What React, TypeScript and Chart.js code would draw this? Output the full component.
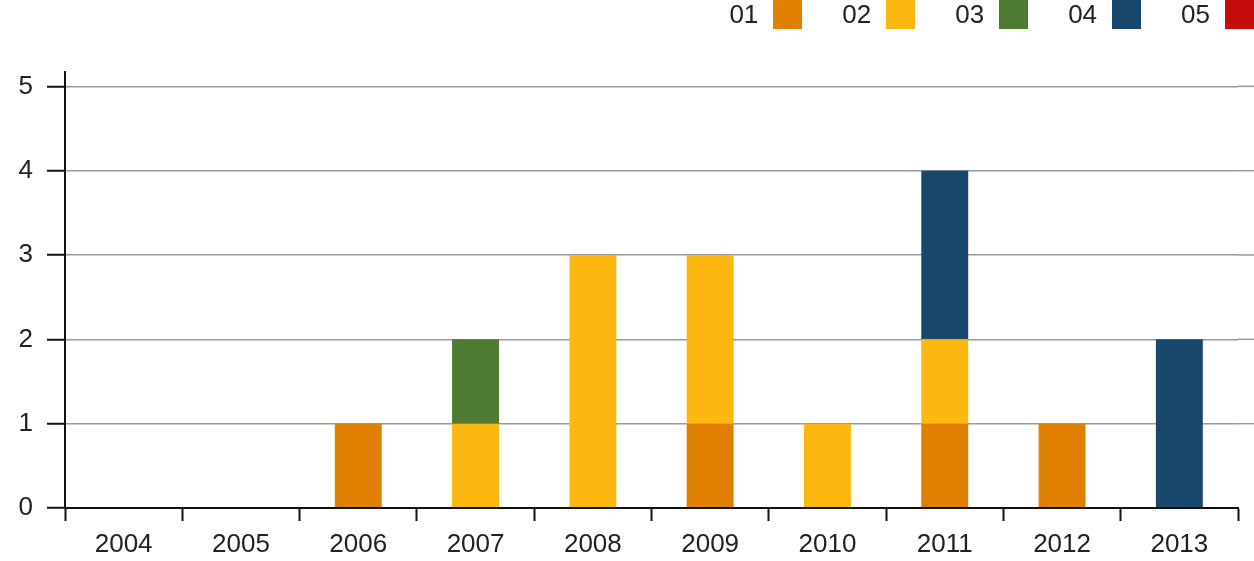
import React, { useEffect, useRef } from "react";
import { Chart, registerables } from "chart.js";

Chart.register(...registerables);

const categories = ["2004", "2005", "2006", "2007", "2008", "2009", "2010", "2011", "2012", "2013"];
const seriesNames = ["01", "02", "03", "04", "05"];
const seriesColors = ["#E07F00", "#FCB710", "#4E7A32", "#18476B", "#C40D0C"];
const s01 = [0, 0, 1, 0, 0, 1, 0, 1, 1, 0];
const s02 = [0, 0, 0, 1, 3, 2, 1, 1, 0, 0];
const s03 = [0, 0, 0, 1, 0, 0, 0, 0, 0, 0];
const s04 = [0, 0, 0, 0, 0, 0, 0, 2, 0, 2];
const s05 = [0, 0, 0, 0, 0, 0, 0, 0, 0, 0];
const seriesValues = [s01, s02, s03, s04, s05];
const yTicks = [0, 1, 2, 3, 4, 5];

const FONT = "'Liberation Sans', Arial, sans-serif";

const gridExtend = {
  id: "gridExtend",
  beforeDatasetsDraw(chart: any) {
    const { ctx, chartArea, scales } = chart;
    const y = scales.y;
    ctx.save();
    ctx.strokeStyle = "#9a9a9a";
    ctx.lineWidth = 1.5;
    yTicks.forEach((v) => {
      if (v === 0) return;
      const py = y.getPixelForValue(v);
      ctx.beginPath();
      ctx.moveTo(chartArea.right, py);
      ctx.lineTo(chart.width, py);
      ctx.stroke();
    });
    ctx.restore();
  },
};

export default function App() {
  const ref = useRef<HTMLCanvasElement>(null);
  useEffect(() => {
    document.body.style.margin = "0";
    const chart = new Chart(ref.current!, {
      type: "bar",
      data: {
        labels: categories,
        datasets: seriesNames.map((n, i) => ({
          label: n,
          data: seriesValues[i],
          backgroundColor: seriesColors[i],
          borderWidth: 0,
          barPercentage: 0.4,
          categoryPercentage: 1,
        })),
      },
      plugins: [gridExtend],
      options: {
        animation: false,
        responsive: false,
        maintainAspectRatio: false,
        layout: { padding: { top: 72, right: 16, left: 0, bottom: 0 } },
        plugins: { legend: { display: false }, tooltip: { enabled: false } },
        scales: {
          x: {
            stacked: true,
            afterFit: (s: any) => {
              s.height = 53;
            },
            grid: {
              offset: true,
              drawOnChartArea: false,
              drawTicks: true,
              tickLength: 13,
              tickColor: "#111",
              tickWidth: 2,
            },
            border: { color: "#111", width: 2, z: 1 },
            ticks: { color: "#222", font: { family: FONT, size: 26 }, padding: 8 },
          },
          y: {
            stacked: true,
            min: 0,
            max: 5.17,
            afterFit: (s: any) => {
              s.width = 65;
            },
            grid: {
              color: "#9a9a9a",
              lineWidth: 1.5,
              tickLength: 18,
              tickColor: "#111",
              tickWidth: 2,
            },
            border: { color: "#111", width: 2 },
            ticks: {
              stepSize: 1,
              includeBounds: false,
              color: "#222",
              font: { family: FONT, size: 26 },
              padding: 14,
            },
          },
        },
      },
    });
    return () => chart.destroy();
  }, []);

  return (
    <div style={{ position: "relative", width: 1254, height: 561, overflow: "hidden" }}>
      <canvas ref={ref} width={1254} height={561} style={{ display: "block" }} />
      <div
        style={{
          position: "absolute",
          top: 0,
          right: 0,
          display: "flex",
          alignItems: "center",
          fontFamily: FONT,
          fontSize: 26,
          color: "#222",
        }}
      >
        {seriesNames.map((n, i) => (
          <div key={n} style={{ display: "flex", alignItems: "center", marginLeft: i === 0 ? 0 : 40 }}>
            <span style={{ lineHeight: "29px" }}>{n}</span>
            <span
              style={{
                display: "inline-block",
                width: 29,
                height: 29,
                marginLeft: 15,
                background: seriesColors[i],
              }}
            />
          </div>
        ))}
      </div>
    </div>
  );
}
